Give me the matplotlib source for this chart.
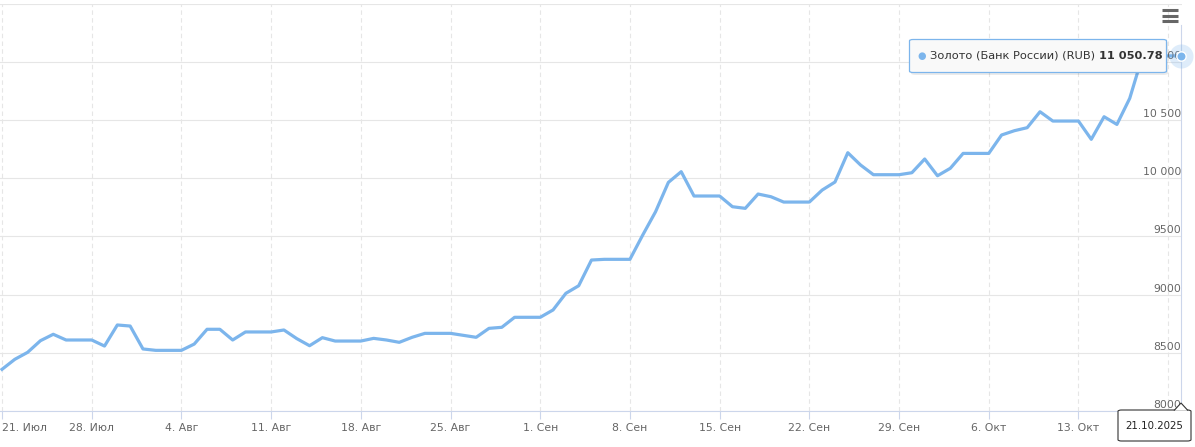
import matplotlib
matplotlib.use("Agg")
import matplotlib.pyplot as plt
import matplotlib.dates as mdates
import matplotlib.transforms as mtransforms
from matplotlib.patches import FancyBboxPatch, Polygon
import pandas as pd

# ---- data ----
start_date = "2025-07-21"
end_date = "2025-10-21"
gold_rub = [
    8358, 8444, 8504, 8604, 8659, 8610, 8610, 8610, 8558, 8739, 8730,          # Jul 21-31
    8533, 8521, 8521, 8521, 8575, 8702, 8702, 8610, 8679, 8679, 8679,          # Aug 1-11
    8696, 8622, 8561, 8630, 8601, 8601, 8601, 8624, 8610, 8590, 8633,          # Aug 12-22
    8667, 8667, 8667, 8650, 8633, 8710, 8719, 8805, 8805,                      # Aug 23-31
    8805, 8868, 9011, 9076, 9297, 9303, 9303, 9303, 9512, 9712, 9964,          # Sep 1-11
    10056, 9847, 9847, 9847, 9755, 9741, 9864, 9841, 9795, 9795, 9795,         # Sep 12-22
    9898, 9967, 10219, 10113, 10030, 10030, 10030, 10047,                      # Sep 23-30
    10165, 10021, 10085, 10213, 10213, 10213, 10371, 10408, 10434, 10571,      # Oct 1-10
    10491, 10491, 10491, 10334, 10528, 10462, 10686,                           # Oct 11-17
    11050.78, 11050.78, 11050.78, 11050.78,                                    # Oct 18-21
]
y_ticks = [8000, 8500, 9000, 9500, 10000, 10500, 11000, 11500]
y_labels = ["8000", "8500", "9000", "9500", "10 000", "10 500", "11 000", ""]
month_ru = {7: "Июл", 8: "Авг", 9: "Сен", 10: "Окт"}
series_name = "Золото (Банк России) (RUB)"
last_value_text = "11 050.78"
last_date_text = "21.10.2025"

dates = pd.date_range(start_date, end_date, freq="D")
xnum = mdates.date2num(dates.to_pydatetime())
tick_dates = pd.date_range(start_date, end_date, freq="7D")
tick_num = mdates.date2num(tick_dates.to_pydatetime())
tick_lbls = [f"{d.day}. {month_ru[d.month]}" for d in tick_dates]
tick_lbls[-1] = ""  # hidden behind the crosshair date label in the reference

W, H = 1195, 447
fig = plt.figure(figsize=(W / 100, H / 100), dpi=100)
fig.patch.set_facecolor("white")
ax = fig.add_axes([0, (H - 411) / H, 1182 / W, (411 - 3.6) / H])

LINE = "#7cb5ec"
GRID = "#e6e6e6"
AXC = "#ccd6eb"
TXT = "#666666"
FS = 7.8

ax.plot(xnum, gold_rub, color=LINE, lw=2.3, solid_joinstyle="round", zorder=3, clip_on=False)

s = 12.815
ax.set_xlim(xnum[0] - 2 / s, xnum[0] + 1180 / s)
ax.set_ylim(8000, 11500)

for v in y_ticks:
    ax.axhline(v, color=GRID, lw=0.8, zorder=1)
for t in tick_num:
    ax.axvline(t, color=GRID, lw=0.8, ls=(0, (4, 3)), zorder=1)

for sp in ["left", "right", "top"]:
    ax.spines[sp].set_visible(False)
ax.spines["bottom"].set_color(AXC)
ax.spines["bottom"].set_linewidth(0.8)
ax.spines["bottom"].set_zorder(2)

ax.set_xticks(tick_num)
ax.set_xticklabels(tick_lbls)
ax.tick_params(axis="x", colors=AXC, length=6, width=0.8, pad=2.5, labelcolor=TXT, labelsize=FS)
ax.get_xticklabels()[0].set_horizontalalignment("left")
ax.set_yticks([])

# y labels inside plot, right-aligned, above gridlines
ytrans = mtransforms.offset_copy(
    mtransforms.blended_transform_factory(ax.transAxes, ax.transData), fig=fig, x=0, y=6, units="dots")
for v, lab in zip(y_ticks, y_labels):
    ax.text(1181 / 1182, v, lab, transform=ytrans, ha="right", va="center",
            color=TXT, fontsize=FS, zorder=4, clip_on=False)

# crosshair
ax.plot([xnum[-1], xnum[-1]], [8000, 11316], color=AXC, lw=0.8, zorder=2, clip_on=False)

# hover marker
ax.scatter([xnum[-1]], [gold_rub[-1]], s=300, color=LINE, alpha=0.25, zorder=5, clip_on=False, lw=0)
ax.scatter([xnum[-1]], [gold_rub[-1]], s=45, color=LINE, edgecolor="white", lw=1, zorder=6, clip_on=False)


def fx(px):
    return px / W


def fy(py):
    return (H - py) / H


# tooltip
shadow = FancyBboxPatch((fx(911), fy(75)), fx(1168) - fx(911), fy(41) - fy(75),
                        boxstyle="round,pad=0,rounding_size=0.004", transform=fig.transFigure,
                        facecolor="black", alpha=0.08, edgecolor="none", zorder=9)
fig.add_artist(shadow)
tip = FancyBboxPatch((fx(909.5), fy(72.5)), fx(1166.5) - fx(909.5), fy(39.5) - fy(72.5),
                     boxstyle="round,pad=0,rounding_size=0.003", transform=fig.transFigure,
                     facecolor="#f9f9f9", edgecolor=LINE, lw=0.9, zorder=10)
fig.add_artist(tip)
fig.text(fx(922), fy(56), "●", color=LINE, fontsize=7, ha="center", va="center", zorder=11)
t1 = fig.text(fx(930.5), fy(56), series_name + " ", color="#333333", fontsize=8.2, ha="left",
              va="center", zorder=11)
fig.canvas.draw()
bb = t1.get_window_extent()
fig.text(bb.x1 / W, fy(56), last_value_text, color="#333333", fontsize=8.2, fontweight="bold",
         ha="left", va="center", zorder=11)

# crosshair date label
box2 = FancyBboxPatch((fx(1118), fy(441)), fx(1191) - fx(1118), fy(410) - fy(441),
                      boxstyle="round,pad=0,rounding_size=0.003", transform=fig.transFigure,
                      facecolor="white", edgecolor="#333333", lw=0.8, zorder=10)
fig.add_artist(box2)
ptr = Polygon([[fx(1174), fy(410.6)], [fx(1181), fy(403)], [fx(1188), fy(410.6)]], closed=False,
              transform=fig.transFigure, facecolor="white", edgecolor="#333333", lw=0.8, zorder=11)
fig.add_artist(ptr)
fig.text(fx(1154), fy(426), last_date_text, color="#222222", fontsize=7.4,
         ha="center", va="center", zorder=12)

# menu icon
for yy in [10, 15.5, 21]:
    fig.add_artist(plt.Line2D([fx(1162), fx(1178)], [fy(yy), fy(yy)], transform=fig.transFigure,
                              color="#666666", lw=2.2, solid_capstyle="butt"))

fig.savefig("out.png", dpi=100)
